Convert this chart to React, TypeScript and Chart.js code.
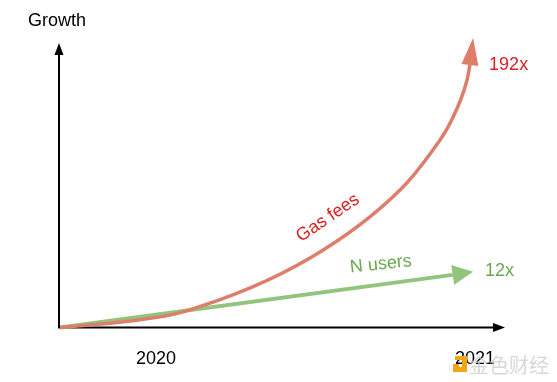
import React, { useEffect, useRef } from "react";
import { Chart, registerables } from "chart.js";

Chart.register(...registerables);

// ---- data ----
const TICK_YEARS = [2020, 2021];
const TICK_LABELS = ["2020", "2021"];
const X_MIN = 2019.696;
const X_MAX = 2021.094;
const Y_MIN = 0;
const Y_MAX = 100;

const GAS_X = [2019.7, 2019.918, 2020.082, 2020.483, 2020.765, 2020.868, 2020.922, 2020.975, 2020.984];
const GAS_Y = [0, 2.3, 5.4, 24.4, 48.3, 62.4, 71.9, 87.0, 92.3];
const GAS_TIP = [2020.994, 101.8];

const USERS_X = [2019.7, 2020.93];
const USERS_Y = [0, 18.5];
const USERS_TIP = [2020.994, 19.6];

const GAS_LABEL = "Gas fees";
const USERS_LABEL = "N users";
const GAS_MULT = "192x";
const USERS_MULT = "12x";
const Y_TITLE = "Growth";
const WATERMARK = "金色财经";

const RED_LINE = "#dd7e6b";
const GREEN_LINE = "#93c47d";
const RED_TEXT = "#dc1f1f";
const GREEN_TEXT = "#6aa84f";
const FONT = "'Liberation Sans', Arial, sans-serif";

function arrowHead(ctx: CanvasRenderingContext2D, bx: number, by: number, tx: number, ty: number, half: number, color: string) {
  const dx = tx - bx, dy = ty - by;
  const len = Math.hypot(dx, dy) || 1;
  const nx = -dy / len, ny = dx / len;
  ctx.save();
  ctx.fillStyle = color;
  ctx.beginPath();
  ctx.moveTo(tx, ty);
  ctx.lineTo(bx + nx * half, by + ny * half);
  ctx.lineTo(bx - nx * half, by - ny * half);
  ctx.closePath();
  ctx.fill();
  ctx.restore();
}

const decorations = {
  id: "decorations",
  beforeDatasetsDraw(chart: any) {
    const { ctx, scales } = chart;
    const x = scales.x, y = scales.y;
    const x0 = x.getPixelForValue(X_MIN);
    const y0 = y.getPixelForValue(Y_MIN);
    const xEnd = x.getPixelForValue(X_MAX);
    const yEnd = y.getPixelForValue(Y_MAX);
    ctx.save();
    ctx.strokeStyle = "#000";
    ctx.lineWidth = 2;
    ctx.beginPath();
    ctx.moveTo(x0 - 1, y0);
    ctx.lineTo(xEnd - 10, y0);
    ctx.moveTo(x0, y0 + 1);
    ctx.lineTo(x0, yEnd + 10);
    ctx.stroke();
    ctx.restore();
    arrowHead(ctx, xEnd - 12, y0, xEnd, y0, 4.5, "#000");
    arrowHead(ctx, x0, yEnd + 12, x0, yEnd, 4.5, "#000");
  },
  afterDatasetsDraw(chart: any) {
    const { ctx, scales } = chart;
    const x = scales.x, y = scales.y;
    const gbx = x.getPixelForValue(GAS_X[GAS_X.length - 1]);
    const gby = y.getPixelForValue(GAS_Y[GAS_Y.length - 1]);
    const gtx = x.getPixelForValue(GAS_TIP[0]);
    const gty = y.getPixelForValue(GAS_TIP[1]);
    arrowHead(ctx, gbx, gby, gtx, gty, 8.5, RED_LINE);
    const ubx = x.getPixelForValue(USERS_X[USERS_X.length - 1]);
    const uby = y.getPixelForValue(USERS_Y[USERS_Y.length - 1]);
    const utx = x.getPixelForValue(USERS_TIP[0]);
    const uty = y.getPixelForValue(USERS_TIP[1]);
    arrowHead(ctx, ubx, uby, utx, uty, 10, GREEN_LINE);

    ctx.save();
    ctx.font = `18px ${FONT}`;
    ctx.textBaseline = "middle";
    ctx.textAlign = "left";
    ctx.fillStyle = RED_TEXT;
    ctx.fillText(GAS_MULT, gtx + 16, gty + 27);
    ctx.fillStyle = GREEN_TEXT;
    ctx.fillText(USERS_MULT, utx + 12, uty - 1);
    ctx.fillStyle = "#000";
    ctx.fillText(Y_TITLE, x.getPixelForValue(X_MIN) - 31, y.getPixelForValue(Y_MAX) - 22);
    ctx.textAlign = "center";
    ctx.save();
    ctx.translate(x.getPixelForValue(2020.539), y.getPixelForValue(38.5));
    ctx.rotate((-34 * Math.PI) / 180);
    ctx.fillStyle = RED_TEXT;
    ctx.fillText(GAS_LABEL, 0, 0);
    ctx.restore();
    ctx.save();
    ctx.translate(x.getPixelForValue(2020.705), y.getPixelForValue(22.2));
    ctx.rotate((-6 * Math.PI) / 180);
    ctx.fillStyle = GREEN_TEXT;
    ctx.fillText(USERS_LABEL, 0, 0);
    ctx.restore();
    ctx.restore();
  },
  afterDraw(chart: any) {
    const { ctx } = chart;
    ctx.save();
    ctx.fillStyle = "#f2a516";
    ctx.beginPath();
    ctx.moveTo(455, 356);
    ctx.lineTo(467, 356);
    ctx.lineTo(467, 372);
    ctx.lineTo(453, 372);
    ctx.lineTo(453, 364);
    ctx.lineTo(459, 364);
    ctx.lineTo(459, 367);
    ctx.lineTo(462, 367);
    ctx.lineTo(462, 360);
    ctx.lineTo(455, 360);
    ctx.closePath();
    ctx.fill();
    ctx.font = `20px 'Noto Sans CJK SC', sans-serif`;
    ctx.textBaseline = "middle";
    ctx.textAlign = "left";
    ctx.fillStyle = "rgba(205,205,205,0.8)";
    ctx.fillText(WATERMARK, 469, 365);
    ctx.restore();
  },
};

export default function App() {
  const ref = useRef<HTMLCanvasElement | null>(null);
  useEffect(() => {
    if (!ref.current) return;
    const chart = new Chart(ref.current, {
      type: "line",
      data: {
        datasets: [
          {
            label: USERS_LABEL,
            data: USERS_X.map((v, i) => ({ x: v, y: USERS_Y[i] })),
            borderColor: GREEN_LINE,
            borderWidth: 4,
            pointRadius: 0,
            fill: false,
            clip: false,
            order: 2,
          },
          {
            label: GAS_LABEL,
            data: GAS_X.map((v, i) => ({ x: v, y: GAS_Y[i] })),
            borderColor: RED_LINE,
            borderWidth: 3.5,
            pointRadius: 0,
            cubicInterpolationMode: "monotone",
            fill: false,
            clip: false,
            order: 1,
          },
        ],
      },
      options: {
        responsive: false,
        animation: false,
        devicePixelRatio: 1,
        layout: { padding: { left: 59, right: 52, top: 43, bottom: 12 } },
        plugins: { legend: { display: false }, tooltip: { enabled: false } },
        scales: {
          x: {
            type: "linear",
            min: X_MIN,
            max: X_MAX,
            grid: { display: false, drawTicks: false },
            border: { display: false },
            afterBuildTicks: (scale: any) => {
              scale.ticks = TICK_YEARS.map((v) => ({ value: v }));
            },
            afterFit: (scale: any) => {
              scale.height = 42.5;
            },
            ticks: {
              autoSkip: false,
              maxRotation: 0,
              padding: 21,
              color: "#000",
              font: { family: FONT, size: 18 },
              callback: (value: any) => {
                const i = TICK_YEARS.indexOf(Number(value));
                return i >= 0 ? TICK_LABELS[i] : "";
              },
            },
          },
          y: { type: "linear", min: Y_MIN, max: Y_MAX, display: false },
        },
      },
      plugins: [decorations],
    });
    return () => chart.destroy();
  }, []);
  return (
    <div style={{ position: "fixed", left: 0, top: 0, width: 557, height: 382, background: "#fff" }}>
      <canvas ref={ref} width={557} height={382} style={{ display: "block" }} />
    </div>
  );
}
